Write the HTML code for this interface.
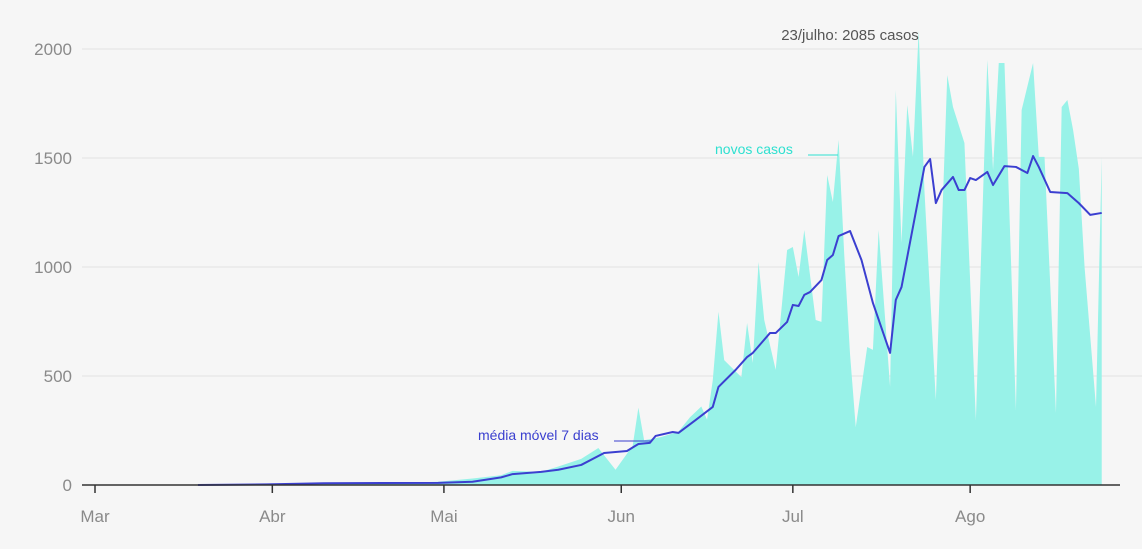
<!DOCTYPE html>
<html><head><meta charset="utf-8"><style>
body{margin:0;background:#f6f6f6;}
svg{display:block;font-family:"Liberation Sans",Arial,sans-serif;}
</style></head><body>
<svg id="chart" width="1142" height="549" viewBox="0 0 1142 549">
<rect width="1142" height="549" fill="#f6f6f6"/>
<g id="grid"></g>
<g id="marks"></g>
<g id="axes"></g>
<text x="850" y="40" text-anchor="middle" font-size="15" fill="#555">23/julho: 2085 casos</text>
<text x="715" y="154" font-size="14" fill="#2ee0d0">novos casos</text>
<line x1="808" y1="155" x2="838" y2="155" stroke="#2ee0d0" stroke-width="1"/>
<text x="478" y="440" font-size="14" fill="#3a3fcf">média móvel 7 dias</text>
<line x1="614" y1="441" x2="652" y2="441" stroke="#3a3fcf" stroke-width="1"/>
</svg>
<script>
const caseDays=[18,32,53,60,66,71,73,78,81,85,88,91,94,95,96,99,102,104,106,107,108,109,110,113,114,115,116,117,119,121,122,123,124,126,127,128,129,130,131,132,133,135,136,137,139,140,141,142,143,144,145,147,149,150,152,154,156,157,158,159,161,162,164,165,166,168,169,170,171,172,173,175,176];
const caseValues=[0,5,10,15,30,45,65,60,85,120,170,70,180,355,205,220,245,310,360,300,480,795,573,495,743,560,1023,757,528,1078,1092,954,1170,757,748,1422,1298,1583,1050,600,266,633,620,1170,450,1812,1110,1743,1505,2085,1353,390,1880,1734,1569,298,1950,1445,1936,1936,344,1720,1936,1505,1505,330,1734,1766,1628,1450,1000,358,1505];
const avgDays=[18,30,40,60,66,71,73,78,81,85,89,93,95,97,98,101,102,105,108,109,112,114,115,118,119,121,122,123,124,125,127,128,129,130,132,134,136,139,140,141,145,146,147,148,150,151,152,153,154,156,157,159,161,163,164,165,167,170,172,174,176];
const avgValues=[0,3,8,10,15,35,50,60,70,92,147,156,188,193,225,243,239,298,358,450,528,587,606,697,697,748,826,821,872,885,940,1032,1055,1142,1165,1032,835,606,849,908,1459,1495,1293,1353,1413,1353,1353,1408,1399,1436,1376,1463,1459,1431,1509,1459,1344,1339,1293,1239,1248];
const yTicks=[0,500,1000,1500,2000];
const monthLabels=["Mar","Abr","Mai","Jun","Jul","Ago"];
const monthDays=[0,31,61,92,122,153];

const NS="http://www.w3.org/2000/svg";
const x=d=>95+d*5.72;
const y=v=>485-v*0.218;
function mk(tag,attrs,parent){const e=document.createElementNS(NS,tag);for(const k in attrs)e.setAttribute(k,attrs[k]);parent.appendChild(e);return e;}
const grid=document.getElementById('grid'),marks=document.getElementById('marks'),axes=document.getElementById('axes');
yTicks.forEach(t=>{
  if(t>0){const l=mk('line',{x1:82,x2:1142,y1:y(t),y2:y(t),stroke:'#e2e2e2','stroke-width':1},grid);
  
  }
  const tx=mk('text',{x:72,y:y(t)+6,'text-anchor':'end','font-size':17,fill:'#8a8a8a'},axes);
  tx.textContent=t;
  
  
});
let d='M'+x(caseDays[0])+','+y(0);
caseDays.forEach((dd,i)=>{d+=' L'+x(dd)+','+y(caseValues[i]);});
d+=' L'+x(caseDays[caseDays.length-1])+','+y(0)+' Z';
const area=mk('path',{d:d,fill:'#98f2e8'},marks);


let ld='';
avgDays.forEach((dd,i)=>{ld+=(i?' L':'M')+x(dd)+','+y(avgValues[i]);});
const line=mk('path',{d:ld,fill:'none',stroke:'#3b3fd0','stroke-width':2,'stroke-linejoin':'round'},marks);


const ax=mk('line',{x1:82,x2:1120,y1:485,y2:485,stroke:'#333','stroke-width':1.5},axes);


monthLabels.forEach((m,i)=>{
  const tk=mk('line',{x1:x(monthDays[i]),x2:x(monthDays[i]),y1:485,y2:493,stroke:'#333','stroke-width':1.5},axes);
  
  
  const tx=mk('text',{x:x(monthDays[i]),y:522,'text-anchor':'middle','font-size':17,fill:'#8a8a8a'},axes);
  tx.textContent=m;
  
  
});
</script>
</body></html>
